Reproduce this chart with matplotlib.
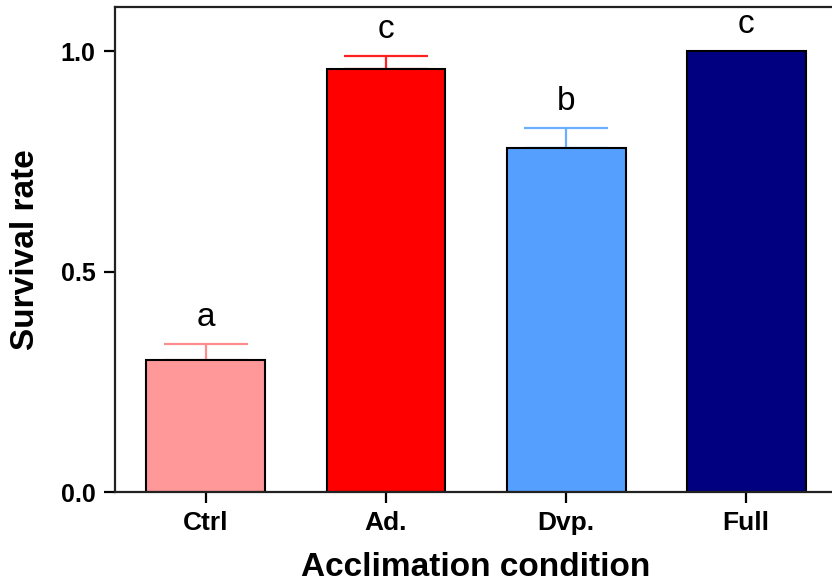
import matplotlib.pyplot as plt

plt.rcParams['font.family'] = ['Liberation Sans', 'DejaVu Sans']

conditions = ['Ctrl', 'Ad.', 'Dvp.', 'Full']
survival = [0.30, 0.96, 0.78, 1.00]
sem = [0.035, 0.030, 0.045, 0.0]
letters = ['a', 'c', 'b', 'c']
bar_colors = ['#FF9999', '#FF0000', '#55A0FF', '#000080']
err_colors = ['#FF8C8C', '#FF2020', '#6AAEFF', '#000080']

fig = plt.figure(figsize=(8.32, 5.87), dpi=100)
ax = fig.add_axes([0.1382, 0.1618, 0.868, 0.826])

x = range(len(conditions))
ax.bar(x, survival, width=0.66, color=bar_colors, edgecolor='black', linewidth=1.5, zorder=2)
for i in x:
    if sem[i] > 0:
        ax.errorbar(i, survival[i], yerr=[[0], [sem[i]]], fmt='none', ecolor=err_colors[i],
                    elinewidth=1.6, capsize=30, capthick=1.6, zorder=1)
    # significance letter just above the bar / error bar
    ax.annotate(letters[i], (i, survival[i] + sem[i]), xytext=(0, 8), textcoords='offset points',
                ha='center', va='bottom', fontsize=24)

ax.set_xlim(-0.505, 3.505)
ax.set_ylim(0, 1.1)
ax.set_yticks([0.0, 0.5, 1.0])
ax.set_yticklabels(['0.0', '0.5', '1.0'])
ax.set_xticks(list(x))
ax.set_xticklabels(conditions)
for lab in ax.get_xticklabels() + ax.get_yticklabels():
    lab.set_fontweight('bold')
ax.tick_params(axis='x', labelsize=19)
ax.tick_params(axis='y', labelsize=18)
ax.tick_params(axis='both', length=8, width=1.6, direction='out', pad=6)
for s in ax.spines.values():
    s.set_linewidth(1.6)
    s.set_color('#222222')

ax.set_xlabel('Acclimation condition', fontsize=24, fontweight='bold', labelpad=12)
ax.set_ylabel('Survival rate', fontsize=24, fontweight='bold', labelpad=14)

fig.savefig('out.png', dpi=100)
